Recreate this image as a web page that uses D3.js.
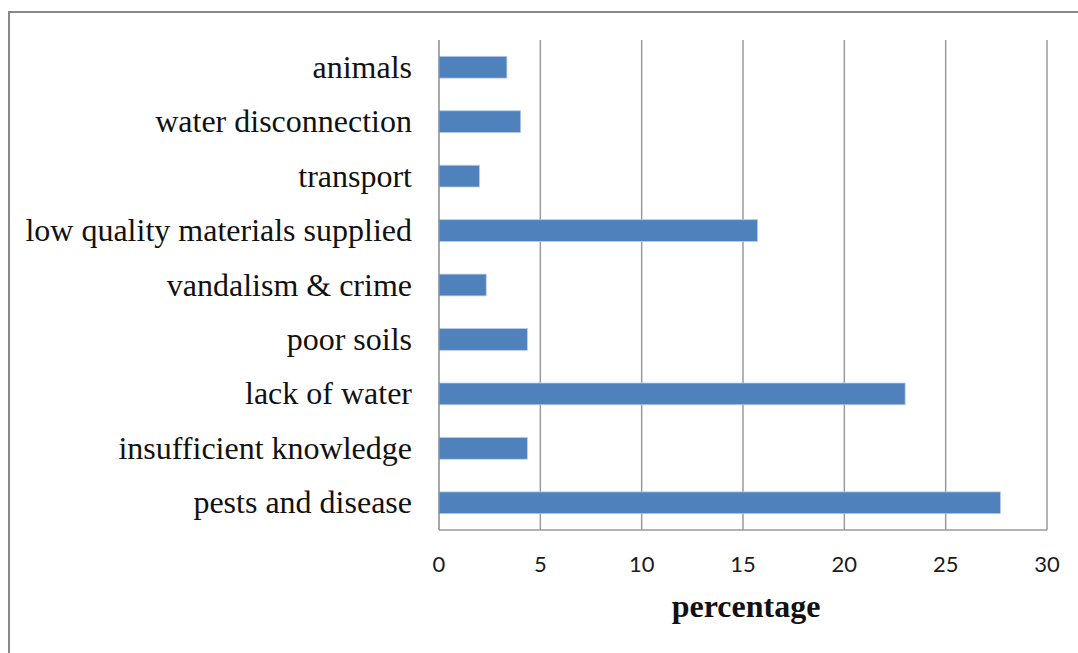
<!DOCTYPE html>
<html>
<head>
<meta charset="utf-8">
<script src="https://cdn.jsdelivr.net/npm/d3@7"></script>
<style>
  html, body { margin: 0; padding: 0; background: #fff; }
  svg { display: block; }
</style>
</head>
<body>
<svg id="chart" width="1078" height="653"></svg>
<script>
// Reported constraints, top to bottom as shown on the chart
const categories = [
  "animals",
  "water disconnection",
  "transport",
  "low quality materials supplied",
  "vandalism & crime",
  "poor soils",
  "lack of water",
  "insufficient knowledge",
  "pests and disease"
];
const percentages = [3.35, 4.03, 2.0, 15.72, 2.33, 4.36, 23.0, 4.36, 27.7];
const xTicks = [0, 5, 10, 15, 20, 25, 30];
const xTitle = "percentage";

const svg = d3.select("#chart");
const W = 1078, H = 653;
const plot = { left: 439, right: 1047, top: 40, bottom: 530 };

// outer frame
svg.append("rect")
  .attr("x", 9).attr("y", 12)
  .attr("width", W + 20).attr("height", H + 20)
  .attr("fill", "#fff")
  .attr("stroke", "#888").attr("stroke-width", 2);

const x = d3.scaleLinear().domain([0, 30]).range([plot.left, plot.right]);
const y = d3.scaleBand().domain(categories).range([plot.top, plot.bottom]).paddingInner(0.6).paddingOuter(0.3);

// vertical gridlines
svg.append("g")
  .selectAll("line")
  .data(xTicks.filter(d => d > 0))
  .join("line")
  .attr("x1", d => x(d)).attr("x2", d => x(d))
  .attr("y1", plot.top).attr("y2", plot.bottom)
  .attr("stroke", "#9a9a9a").attr("stroke-width", 1.5);

// bottom edge of plot area
svg.append("line")
  .attr("x1", plot.left).attr("x2", plot.right)
  .attr("y1", plot.bottom).attr("y2", plot.bottom)
  .attr("stroke", "#9a9a9a").attr("stroke-width", 1.5);

// bars
svg.append("g")
  .selectAll("rect")
  .data(categories.map((c, i) => ({ c, v: percentages[i] })))
  .join("rect")
  .attr("x", x(0))
  .attr("y", d => y(d.c))
  .attr("width", d => x(d.v) - x(0))
  .attr("height", y.bandwidth())
  .attr("fill", "#4F81BD")
  .attr("stroke", "#B9CDE5").attr("stroke-width", 0.8);

// category axis line
svg.append("line")
  .attr("x1", plot.left).attr("x2", plot.left)
  .attr("y1", plot.top).attr("y2", plot.bottom)
  .attr("stroke", "#8a8a8a").attr("stroke-width", 1.5);

// category labels
svg.append("g")
  .selectAll("text")
  .data(categories)
  .join("text")
  .attr("x", 412)
  .attr("y", d => y(d) + y.bandwidth() / 2)
  .attr("dy", "0.33em")
  .attr("text-anchor", "end")
  .attr("font-family", "'Liberation Serif', 'Times New Roman', serif")
  .attr("font-size", 32)
  .attr("fill", "#111")
  .text(d => d);

// value tick labels
svg.append("g")
  .selectAll("text")
  .data(xTicks)
  .join("text")
  .attr("x", d => x(d))
  .attr("y", 572)
  .attr("text-anchor", "middle")
  .attr("font-family", "Lato, 'Open Sans', sans-serif")
  .attr("font-size", 22)
  .attr("fill", "#1a1a1a")
  .text(d => d);

// axis title
svg.append("text")
  .attr("x", 746)
  .attr("y", 617)
  .attr("text-anchor", "middle")
  .attr("font-family", "'Liberation Serif', 'Times New Roman', serif")
  .attr("font-weight", "bold")
  .attr("font-size", 32)
  .attr("fill", "#111")
  .text(xTitle);
</script>
</body>
</html>
